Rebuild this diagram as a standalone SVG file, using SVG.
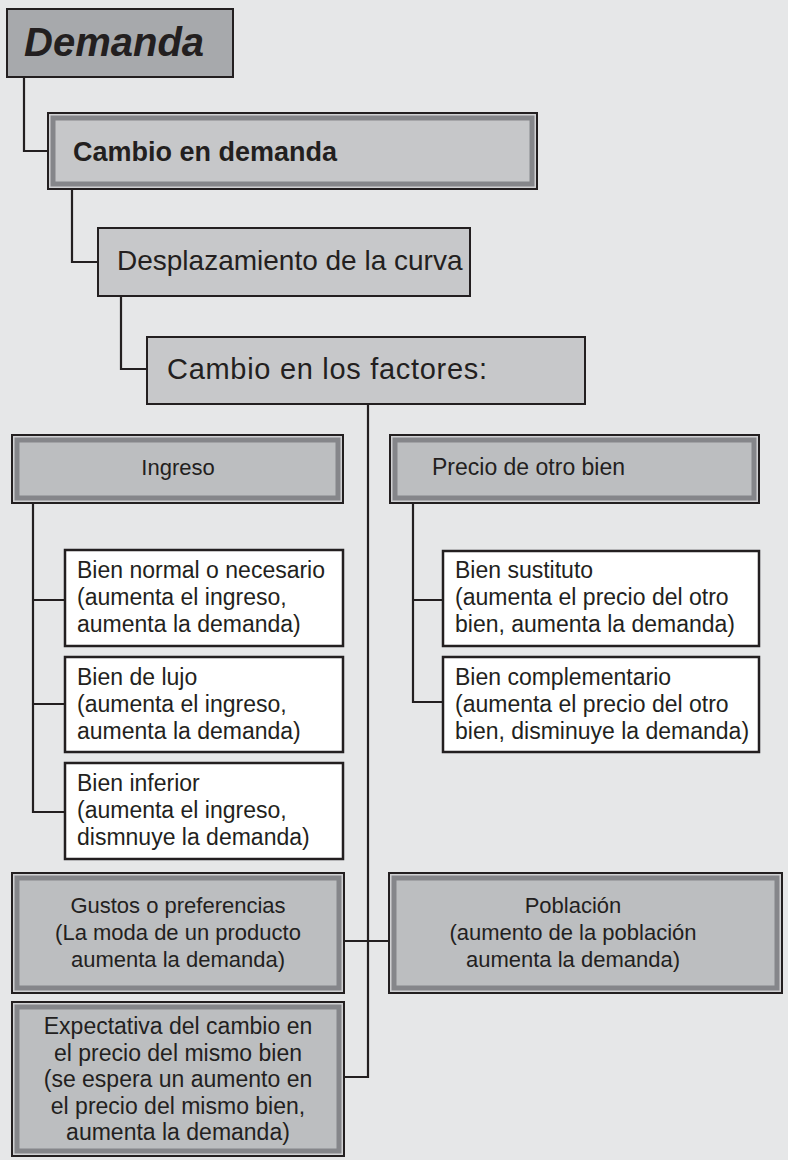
<svg xmlns="http://www.w3.org/2000/svg" width="788" height="1160" viewBox="0 0 788 1160">
<style>
text{font-family:"Liberation Sans",Arial,sans-serif;fill:#231f20}
.single{stroke:#231f20;stroke-width:2}
.outer{fill:#d0d1d3;stroke:#231f20;stroke-width:2}
.frame{fill:#bcbec0;stroke:#85868a;stroke-width:5}
.white{fill:#ffffff;stroke:#231f20;stroke-width:2.5}
.t23{font-size:23px}
.t22{font-size:22px}
.c{text-anchor:middle}
#connectors path{fill:none;stroke:#231f20;stroke-width:2.2}
</style>
<rect x="0" y="0" width="788" height="1160" fill="#e6e7e8"/>

<g id="connectors">
<path d="M24,77 V151 H48"/>
<path d="M72,189 V262 H98"/>
<path d="M121,296 V369 H147"/>
<path d="M368,404 V1077 H344"/>
<path d="M344,941 H389"/>
<path d="M33,503 V812 H65 M33,600 H65 M33,704 H65"/>
<path d="M413,503 V702 H443 M413,600 H443"/>
</g>

<g id="demanda">
<rect class="single" x="7" y="9" width="226" height="68" fill="#a7a9ac"/>
<text x="24" y="56" font-size="40" font-weight="bold" font-style="italic">Demanda</text>
</g>

<g id="cambio-demanda">
<rect class="outer" x="48" y="113" width="489" height="76"/>
<rect class="frame" x="53" y="118" width="479" height="66" style="fill:#c6c7c9"/>
<text x="73" y="161" font-size="27" font-weight="bold">Cambio en demanda</text>
</g>

<g id="desplazamiento">
<rect class="single" x="98" y="228" width="372" height="68" fill="#c7c8ca"/>
<text x="117" y="270" font-size="28">Desplazamiento de la curva</text>
</g>

<g id="cambio-factores">
<rect class="single" x="147" y="337" width="438" height="67" fill="#c7c8ca"/>
<text x="167" y="379" font-size="29" textLength="320" lengthAdjust="spacing">Cambio en los factores:</text>
</g>

<g id="ingreso">
<rect class="outer" x="12" y="435" width="331" height="68"/>
<rect class="frame" x="17" y="440" width="321" height="58"/>
<text class="t22 c" x="178" y="475">Ingreso</text>
</g>

<g id="precio-otro-bien">
<rect class="outer" x="390" y="435" width="369" height="68"/>
<rect class="frame" x="395" y="440" width="359" height="58"/>
<text class="t23" x="432" y="475">Precio de otro bien</text>
</g>

<g id="bien-normal">
<rect class="white" x="65" y="550" width="278" height="96"/>
<text class="t23" x="77" y="578">Bien normal o necesario</text>
<text class="t23" x="77" y="605">(aumenta el ingreso,</text>
<text class="t23" x="77" y="632">aumenta la demanda)</text>
</g>

<g id="bien-lujo">
<rect class="white" x="65" y="657" width="278" height="95"/>
<text class="t23" x="77" y="685">Bien de lujo</text>
<text class="t23" x="77" y="712">(aumenta el ingreso,</text>
<text class="t23" x="77" y="739">aumenta la demanda)</text>
</g>

<g id="bien-inferior">
<rect class="white" x="65" y="763" width="278" height="96"/>
<text class="t23" x="77" y="791">Bien inferior</text>
<text class="t23" x="77" y="818">(aumenta el ingreso,</text>
<text class="t23" x="77" y="845">dismnuye la demanda)</text>
</g>

<g id="bien-sustituto">
<rect class="white" x="443" y="551" width="316" height="95"/>
<text class="t23" x="455" y="578">Bien sustituto</text>
<text class="t23" x="455" y="605">(aumenta el precio del otro</text>
<text class="t23" x="455" y="632">bien, aumenta la demanda)</text>
</g>

<g id="bien-complementario">
<rect class="white" x="443" y="657" width="316" height="95"/>
<text class="t23" x="455" y="685">Bien complementario</text>
<text class="t23" x="455" y="712">(aumenta el precio del otro</text>
<text class="t23" x="455" y="739">bien, disminuye la demanda)</text>
</g>

<g id="gustos">
<rect class="outer" x="12" y="873" width="332" height="120"/>
<rect class="frame" x="17" y="878" width="322" height="110"/>
<text class="t22 c" x="178" y="913">Gustos o preferencias</text>
<text class="t22 c" x="178" y="940">(La moda de un producto</text>
<text class="t22 c" x="178" y="967">aumenta la demanda)</text>
</g>

<g id="poblacion">
<rect class="outer" x="389" y="873" width="393" height="120"/>
<rect class="frame" x="394" y="878" width="383" height="110"/>
<text class="t22 c" x="573" y="913">Población</text>
<text class="t22 c" x="573" y="940">(aumento de la población</text>
<text class="t22 c" x="573" y="967">aumenta la demanda)</text>
</g>

<g id="expectativa">
<rect class="outer" x="12" y="1002" width="332" height="154"/>
<rect class="frame" x="17" y="1007" width="322" height="144"/>
<text class="t23 c" x="178" y="1034">Expectativa del cambio en</text>
<text class="t23 c" x="178" y="1061">el precio del mismo bien</text>
<text class="t23 c" x="178" y="1087">(se espera un aumento en</text>
<text class="t23 c" x="178" y="1114">el precio del mismo bien,</text>
<text class="t23 c" x="178" y="1140">aumenta la demanda)</text>
</g>
</svg>
